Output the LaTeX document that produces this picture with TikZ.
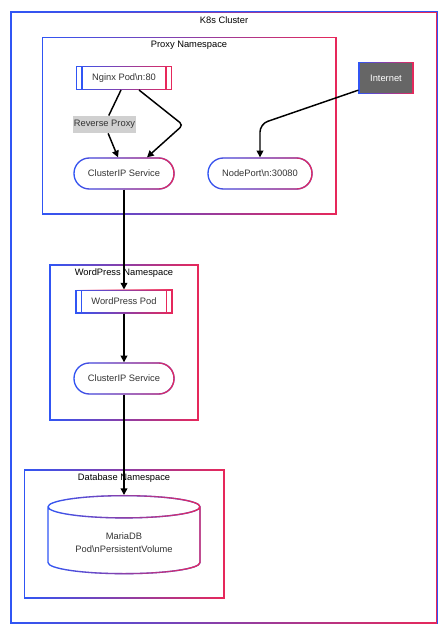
\documentclass[tikz,border=0pt]{standalone}
\usepackage{fontspec}
\setmainfont{Liberation Sans}
\usetikzlibrary{arrows.meta,shapes.geometric,fadings}
\definecolor{gblue}{HTML}{3056F5}
\definecolor{gred}{HTML}{E8285A}
\definecolor{txt}{HTML}{333333}
\definecolor{darkfill}{HTML}{666666}
\definecolor{lblfill}{HTML}{D0D0D0}
\tikzfading[name=toright, left color=transparent!100, right color=transparent!0]

\begin{document}
\begin{tikzpicture}[
	         x             = 0.75pt,
	         y             = -0.75pt,
	         font          = \fontsize{7}{8.4}\selectfont,
	         grad/.style   = {draw=gblue, line width=1pt,
	                          postaction={draw=gred, line width=1pt, path fading=toright}},
	         ns/.style     = {grad, rectangle, inner sep=0pt},
	         pod/.style    = {grad, rectangle, text=txt, minimum width=72pt, minimum height=17pt,
	                          path picture={
	                            \draw[gblue, line width=1pt] ([xshift=4.1pt]path picture bounding box.north west) -- ([xshift=4.1pt]path picture bounding box.south west);
	                            \draw[gred, line width=1pt] ([xshift=-4.1pt]path picture bounding box.north east) -- ([xshift=-4.1pt]path picture bounding box.south east);}},
	         svc/.style    = {grad, rectangle, rounded corners=11.5pt, text=txt, minimum height=23.25pt},
	         edge/.style   = {line width=1.1pt, -{Triangle[length=5pt, width=5pt]}}]
	  \useasboundingbox (0,0) rectangle (444,634);
	  % namespaces
	  \node[ns, minimum width=319.5pt, minimum height=458.25pt] (cluster) at (224,317.5) {};
	  \node[ns, minimum width=220.1pt, minimum height=132.4pt] (proxyns) at (189.25,125.75) {};
	  \node[ns, minimum width=111pt, minimum height=116.25pt] (wpns) at (124,342.5) {};
	  \node[ns, minimum width=149.6pt, minimum height=96pt] (dbns) at (124.25,534) {};
	  \node[anchor=base] (clusterlbl) at (224,23.3) {K8s Cluster};
	  \node[anchor=base] (proxylbl) at (189,48) {Proxy Namespace};
	  \node[anchor=base] (wplbl) at (124,275) {WordPress Namespace};
	  \node[anchor=base] (dblbl) at (124,480) {Database Namespace};
	  % proxy
	  \node[pod, minimum width=71.25pt] (nginx) at (124,78) {Nginx Pod\textbackslash n:80};
	  \node[grad, fill=darkfill, text=white, minimum width=40.5pt, minimum height=23.25pt] (internet) at (386,78) {Internet};
	  \node[fill=lblfill, text=txt, inner xsep=0.75pt, minimum height=9.75pt] (rp) at (104.5,124.5) {Reverse Proxy};
	  \node[svc, minimum width=75pt] (proxysvc) at (124,173.5) {ClusterIP Service};
	  \node[svc, minimum width=78pt] (nodeport) at (260,173.5) {NodePort\textbackslash n:30080};
	  % wordpress
	  \node[pod] (wppod) at (124,301.5) {WordPress Pod};
	  \node[svc, minimum width=75pt] (wpsvc) at (124,378.5) {ClusterIP Service};
	  % database
	  \node[cylinder, shape border rotate=90, grad, aspect=0.21, minimum width=114pt, minimum height=58.5pt,
	        align=center, text=txt, font=\fontsize{7}{10.1}\selectfont, anchor=north] (mariadb) at (124,495) {MariaDB\\Pod\textbackslash nPersistentVolume};
	  % connections
	  \draw[edge] ([xshift=-2.25pt]nginx.south) -- (rp) -- ([xshift=-4.5pt]proxysvc.north);
	  \draw[edge, rounded corners=3pt] ([xshift=11.25pt]nginx.south) -- (183,125) -- ([xshift=17.25pt]proxysvc.north);
	  \draw[edge, rounded corners=6pt] ([yshift=3pt]internet.south west) -- (260,124) -- (nodeport.north);
	  \draw[edge] (proxysvc) -- (wppod);
	  \draw[edge] (wppod) -- (wpsvc);
	  \draw[edge] (wpsvc.south) -- (mariadb.north);
	\end{tikzpicture}
\end{document}
